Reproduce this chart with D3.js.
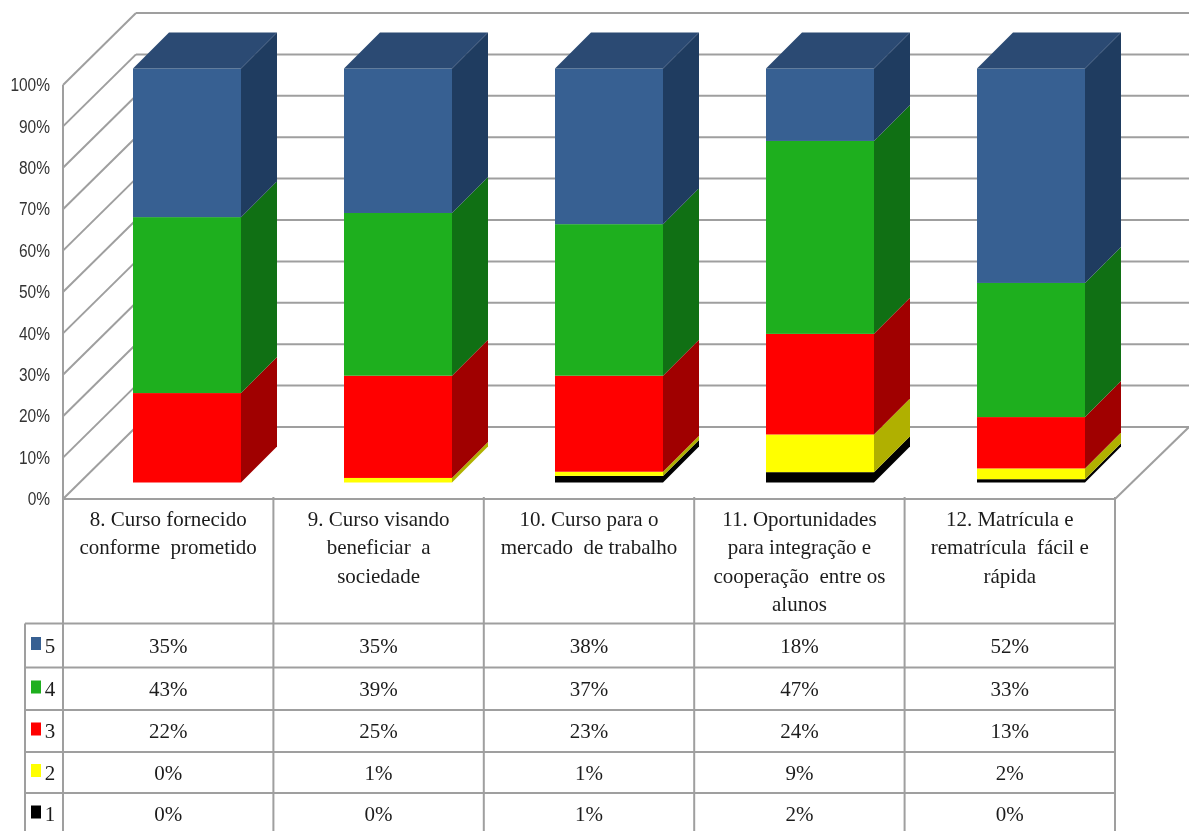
<!DOCTYPE html>
<html><head><meta charset="utf-8">
<script src="https://cdn.jsdelivr.net/npm/d3@7"></script>
<style>html,body{margin:0;padding:0;background:#fff;overflow:hidden}
svg{display:block;filter:blur(0.7px)}
text{font-family:"Liberation Serif",serif;fill:#1c1c1c}</style></head><body>
<svg id="c" width="1189" height="831"></svg>
<script>
const categories = [
  ["8. Curso fornecido","conforme  prometido"],
  ["9. Curso visando","beneficiar  a","sociedade"],
  ["10. Curso para o","mercado  de trabalho"],
  ["11. Oportunidades","para integração e","cooperação  entre os","alunos"],
  ["12. Matrícula e","rematrícula  fácil e","rápida"]
];
const seriesNames = ["1","2","3","4","5"];
// bar heights
const s1 = [0,0,1.6,2.5,0.8];
const s2 = [0,1.1,1,9.1,2.6];
const s3 = [21.6,24.7,23.2,24.3,12.4];
const s4 = [42.5,39.3,36.6,46.6,32.4];
const s5 = [35.9,34.9,37.6,17.5,51.8];
const seriesValues = [s1,s2,s3,s4,s5];
// numbers printed in the data table
const t1 = [0,0,1,2,0];
const t2 = [0,1,1,9,2];
const t3 = [22,25,23,24,13];
const t4 = [43,39,37,47,33];
const t5 = [35,35,38,18,52];
const tableValues = [t1,t2,t3,t4,t5];
const frontColors = ["#000000","#ffff00","#ff0000","#1eaf1e","#376092"];
const sideColors  = ["#000000","#b0b000","#a00000","#107014","#1f3c60"];
const topColor = "#2b4a73";
const ticks = [0,10,20,30,40,50,60,70,80,90,100];

const svg = d3.select("#c");
const left=63,right=1115,y0=499,y100=85;
const wallDx=73,wallDy=72,barOff=16.5,depth=36;
const grid="#9f9f9f";
const x = d3.scaleBand().domain(d3.range(5)).range([left,right]);
const y = d3.scaleLinear().domain([0,100]).range([y0,y100]);
const barX = d3.scalePoint().domain(d3.range(5)).range([133,977]);
const line=(a,b,c,d,w=2)=>svg.append("line").attr("x1",a).attr("y1",b).attr("x2",c).attr("y2",d).attr("stroke",grid).attr("stroke-width",w);

// walls and floor
ticks.forEach(t=>{
  line(left,y(t),left+wallDx,y(t)-wallDy);
  line(left+wallDx,y(t)-wallDy,1189,y(t)-wallDy);
});
line(left,y100,left,831);
line(right,y0,1189,y0-wallDy);

// axis
const ax = d3.axisLeft(y).tickValues(ticks).tickSize(0).tickPadding(13).tickFormat(d=>d+"%");
const g = svg.append("g").attr("transform",`translate(${left},0)`).call(ax);
g.select(".domain").remove();
g.selectAll("text").style("font-family","'Liberation Sans',sans-serif").style("font-size","18px").style("fill","#333")
  .each(function(){ const w=this.getComputedTextLength(); d3.select(this).attr("textLength",w*0.86).attr("lengthAdjust","spacingAndGlyphs"); });

// stacked 3D bars
const stack = d3.stack().keys(d3.range(5)).value((d,k)=>seriesValues[k][d])(d3.range(5));
const barW=108;
const barG = svg.append("g");
d3.range(5).forEach(i=>{
  const bx = barX(i);
  stack.forEach((layer,k)=>{
    const [a,b]=layer[i];
    if(b-a<=0) return;
    const ya=y(a)-barOff, yb=y(b)-barOff;
    barG.append("rect").attr("x",bx).attr("y",yb).attr("width",barW).attr("height",ya-yb).attr("fill",frontColors[k]);
    barG.append("polygon").attr("fill",sideColors[k])
      .attr("points",[[bx+barW,ya],[bx+barW+depth,ya-depth],[bx+barW+depth,yb-depth],[bx+barW,yb]].join(" "));
  });
  const yt=y(100)-barOff;
  barG.append("polygon").attr("fill",topColor)
    .attr("points",[[bx,yt],[bx+depth,yt-depth],[bx+barW+depth,yt-depth],[bx+barW,yt]].join(" "));
});

// data table
const rowTops=[623.5,667.5,710,752,793];
const tableLeft=25, rowH=[44,43,42,41,42];
line(left,y0,right,y0);
rowTops.forEach(r=>line(tableLeft,r,right,r));
line(tableLeft,rowTops[0],tableLeft,831);
d3.range(6).forEach(i=>{const xx=i<5?x(i):right; if(i>0) line(xx,y0-2,xx,831);});

categories.forEach((lines,i)=>{
  lines.forEach((t,j)=>{
    svg.append("text").attr("x",x(i)+x.bandwidth()/2).attr("y",526+j*28.3)
      .attr("text-anchor","middle").attr("font-size",21).style("white-space","pre").text(t);
  });
});
const order=[4,3,2,1,0];
order.forEach((k,ri)=>{
  const cy=rowTops[ri]+rowH[ri]/2;
  svg.append("rect").attr("x",31).attr("y",cy-8.5).attr("width",10).attr("height",13).attr("fill",frontColors[k]);
  svg.append("text").attr("x",50).attr("y",cy+7).attr("text-anchor","middle").attr("font-size",21).text(seriesNames[k]);
  d3.range(5).forEach(i=>{
    svg.append("text").attr("x",x(i)+x.bandwidth()/2).attr("y",cy+7).attr("text-anchor","middle").attr("font-size",21).text(tableValues[k][i]+"%");
  });
});
</script></body></html>
